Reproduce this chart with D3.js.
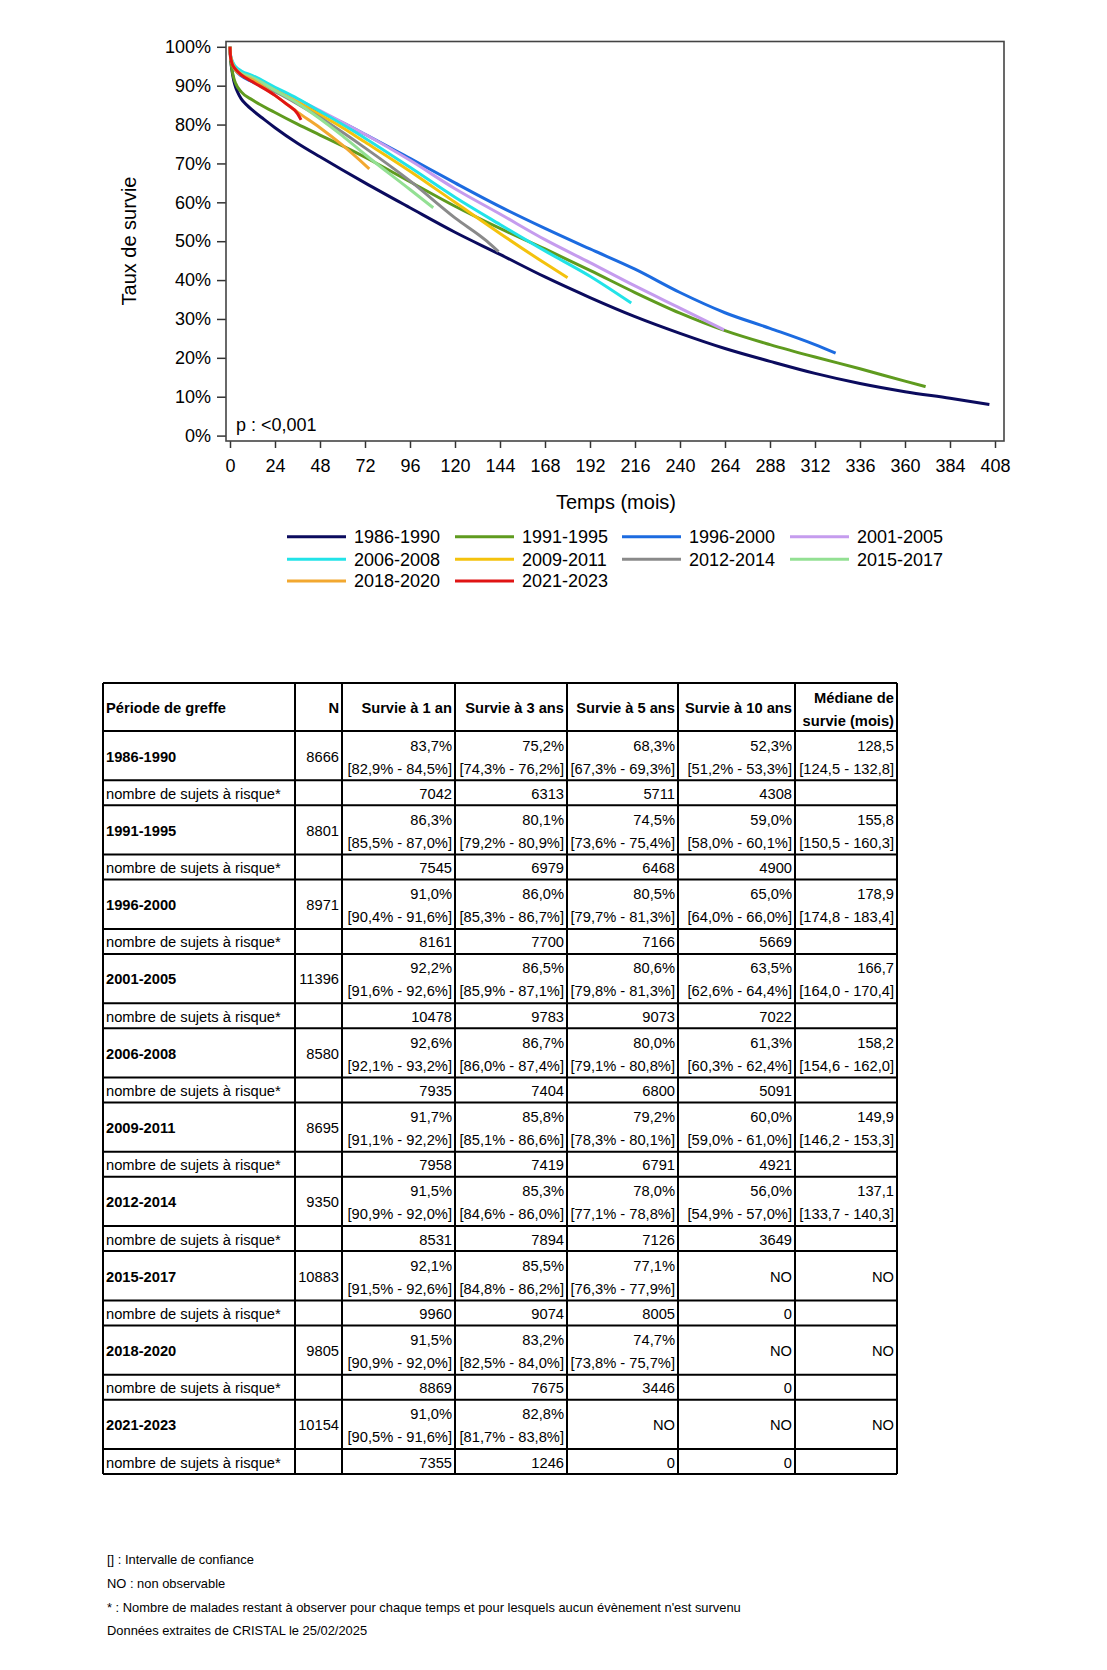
<!DOCTYPE html>
<html><head><meta charset="utf-8">
<script src="https://cdn.jsdelivr.net/npm/d3@7"></script>
<style>
body{margin:0;background:#fff}
svg{display:block}
text{font-family:"Liberation Sans",Arial,sans-serif;fill:#000}
</style>
</head><body>
<svg id="c" width="1107" height="1670"></svg>
<script>
// ---------------- DATA ----------------
const seriesNames = ["1986-1990","1991-1995","1996-2000","2001-2005","2006-2008","2009-2011","2012-2014","2015-2017","2018-2020","2021-2023"];
const seriesColors = ["#0b0b5e","#5f9b1f","#1c6be0","#c59cee","#22e3e8","#f4c20d","#8a8a8a","#93e093","#f2a830","#e01414"];

// [months, survival %]
const s1986 = [[0,100],[0.25,97.5],[0.5,96],[1,94],[2,91.3],[3,89.6],[4,88.4],[6,86.6],[9,85],[12,83.7],[18,81.4],[24,79.2],[36,75.2],[48,71.7],[60,68.3],[72,65.0],[96,58.6],[120,52.3],[144,46.6],[168,40.8],[192,35.5],[216,30.6],[240,26.3],[264,22.4],[288,19.1],[312,16.0],[336,13.4],[360,11.3],[384,9.6],[405,8.0]];
const s1991 = [[0,100],[0.25,97.5],[0.5,96],[1,94.3],[2,92],[3,90.6],[6,88.4],[12,86.3],[24,83.1],[36,80.1],[48,77.3],[60,74.5],[72,71.6],[96,65.3],[120,59],[144,53.3],[168,48],[192,42.5],[216,36.8],[240,31.5],[264,27],[288,23.4],[312,20.2],[336,17.2],[360,14],[371,12.6]];
const s1996 = [[0,100],[0.25,98],[0.5,97],[1,96],[2,94.7],[3,93.9],[6,92.5],[12,91],[24,88.5],[36,86],[48,83.3],[60,80.5],[72,77.5],[96,71.3],[120,65],[144,58.9],[168,53.3],[192,48],[216,42.8],[240,36.8],[264,31.6],[288,27.6],[312,23.4],[323,21.2]];
const s2001 = [[0,100],[0.25,98],[0.5,97.3],[1,96.5],[2,95.3],[3,94.6],[6,93.4],[12,92.2],[24,89.3],[36,86.5],[48,83.6],[60,80.6],[72,77.5],[96,70.8],[120,63.5],[144,57],[168,50.4],[192,44.5],[216,38.5],[240,32.8],[263.5,27.2]];
const s2006 = [[0,100],[0.25,98],[0.5,97.3],[1,96.6],[2,95.6],[3,94.9],[6,93.8],[12,92.6],[24,89.6],[36,86.7],[48,83.4],[60,80],[72,76.5],[96,69],[120,61.3],[144,54.3],[168,47.5],[192,41],[214,34.1]];
const s2009 = [[0,100],[0.25,97.8],[0.5,97],[1,96],[2,94.8],[3,94],[6,93],[12,91.7],[24,88.8],[36,85.8],[48,82.5],[60,79.2],[72,75.5],[96,68],[120,60],[144,52],[168,44.3],[180,40.6]];
const s2012 = [[0,100],[0.25,97.8],[0.5,97],[1,96],[2,94.8],[3,94],[6,92.8],[12,91.5],[24,88.5],[36,85.3],[48,81.8],[60,78],[72,74],[96,65.5],[120,56],[137,50],[143.2,47.3]];
const s2015 = [[0,100],[0.25,97.8],[0.5,97],[1,96.2],[2,95],[3,94.3],[6,93.2],[12,92.1],[24,88.8],[36,85.5],[48,81.5],[60,77.1],[72,72.3],[96,63.3],[108.4,58.6]];
const s2018 = [[0,100],[0.25,97.8],[0.5,97],[1,96],[2,94.8],[3,94],[6,92.8],[12,91.5],[24,87.5],[36,83.2],[48,79.2],[60,74.7],[74.3,68.6]];
const s2021 = [[0,100],[0.25,97.5],[0.5,96.8],[1,95.8],[2,94.8],[3,94.2],[6,92.8],[12,91],[24,87.5],[30,85.3],[36,82.8],[37.9,81.2]];
const seriesData = [s1986,s1991,s1996,s2001,s2006,s2009,s2012,s2015,s2018,s2021];

const xTickValues = [0,24,48,72,96,120,144,168,192,216,240,264,288,312,336,360,384,408];
const yTickValues = [0,10,20,30,40,50,60,70,80,90,100];

// Table data
const tableHeaders = ["Période de greffe","N","Survie à 1 an","Survie à 3 ans","Survie à 5 ans","Survie à 10 ans","Médiane de|survie (mois)"];
const nValues = [8666,8801,8971,11396,8580,8695,9350,10883,9805,10154];
const surv1 = [83.7,86.3,91.0,92.2,92.6,91.7,91.5,92.1,91.5,91.0];
const surv1Low = [82.9,85.5,90.4,91.6,92.1,91.1,90.9,91.5,90.9,90.5];
const surv1High = [84.5,87.0,91.6,92.6,93.2,92.2,92.0,92.6,92.0,91.6];
const risk1 = [7042,7545,8161,10478,7935,7958,8531,9960,8869,7355];
const surv3 = [75.2,80.1,86.0,86.5,86.7,85.8,85.3,85.5,83.2,82.8];
const surv3Low = [74.3,79.2,85.3,85.9,86.0,85.1,84.6,84.8,82.5,81.7];
const surv3High = [76.2,80.9,86.7,87.1,87.4,86.6,86.0,86.2,84.0,83.8];
const risk3 = [6313,6979,7700,9783,7404,7419,7894,9074,7675,1246];
const surv5 = [68.3,74.5,80.5,80.6,80.0,79.2,78.0,77.1,74.7,null];
const surv5Low = [67.3,73.6,79.7,79.8,79.1,78.3,77.1,76.3,73.8,null];
const surv5High = [69.3,75.4,81.3,81.3,80.8,80.1,78.8,77.9,75.7,null];
const risk5 = [5711,6468,7166,9073,6800,6791,7126,8005,3446,0];
const surv10 = [52.3,59.0,65.0,63.5,61.3,60.0,56.0,null,null,null];
const surv10Low = [51.2,58.0,64.0,62.6,60.3,59.0,54.9,null,null,null];
const surv10High = [53.3,60.1,66.0,64.4,62.4,61.0,57.0,null,null,null];
const risk10 = [4308,4900,5669,7022,5091,4921,3649,0,0,0];
const medianSurv = [128.5,155.8,178.9,166.7,158.2,149.9,137.1,null,null,null];
const medianLow = [124.5,150.5,174.8,164.0,154.6,146.2,133.7,null,null,null];
const medianHigh = [132.8,160.3,183.4,170.4,162.0,153.3,140.3,null,null,null];

const footnotes = ["[] : Intervalle de confiance","NO : non observable","* : Nombre de malades restant à observer pour chaque temps et pour lesquels aucun évènement n'est survenu","Données extraites de CRISTAL le 25/02/2025"];

// ---------------- CHART ----------------
const svg = d3.select("#c");
svg.append("rect").attr("width",1107).attr("height",1670).attr("fill","#fff");

const fr = d3.formatLocale({decimal:",",thousands:"",grouping:[3],currency:["",""]});
const f1 = fr.format(".1f");

const x = d3.scaleLinear().domain([0,408]).range([230,995]);
const y = d3.scaleLinear().domain([0,100]).range([435.6,46.8]);

const frame = {l:226,t:41.5,r:1004,b:441};

// axes
const yAxis = d3.axisLeft(y).tickValues(yTickValues).tickSize(9).tickPadding(6).tickFormat(d=>d+"%");
const gy = svg.append("g").attr("transform",`translate(${frame.l},0)`).call(yAxis);
gy.select(".domain").remove();
gy.selectAll("text").attr("font-size",18).attr("font-family","Liberation Sans, Arial, sans-serif").attr("fill","#000");
gy.selectAll("line").attr("stroke","#333").attr("stroke-width",1.5);

const xAxis = d3.axisBottom(x).tickValues(xTickValues).tickSize(7).tickPadding(11.5).tickFormat(d=>d);
const gx = svg.append("g").attr("transform",`translate(0,${frame.b})`).call(xAxis);
gx.select(".domain").remove();
gx.selectAll("text").attr("font-size",18).attr("font-family","Liberation Sans, Arial, sans-serif").attr("fill","#000");
gx.selectAll("line").attr("stroke","#333").attr("stroke-width",1.5);

// curves
const line = d3.line().x(d=>x(d[0])).y(d=>y(d[1])).curve(d3.curveMonotoneX);
svg.append("g").selectAll("path").data(seriesData).join("path")
  .attr("d",line).attr("fill","none")
  .attr("stroke",(d,i)=>seriesColors[i]).attr("stroke-width",3)
  .attr("stroke-linejoin","round");

// frame
svg.append("rect").attr("x",frame.l).attr("y",frame.t)
  .attr("width",frame.r-frame.l).attr("height",frame.b-frame.t)
  .attr("fill","none").attr("stroke","#444").attr("stroke-width",1.6);

svg.append("text").attr("x",236).attr("y",431).attr("font-size",18).text("p : <0,001");

svg.append("text").attr("transform","translate(135.5,241) rotate(-90)")
  .attr("text-anchor","middle").attr("font-size",20).text("Taux de survie");
svg.append("text").attr("x",616).attr("y",509).attr("text-anchor","middle")
  .attr("font-size",20).text("Temps (mois)");

// legend
const legCols = [287,455,622,790], legRows=[536.7,559.3,581];
const lg = svg.append("g").selectAll("g").data(seriesNames).join("g")
  .attr("transform",(d,i)=>`translate(${legCols[i%4]},${legRows[Math.floor(i/4)]})`);
lg.append("line").attr("x1",0).attr("x2",59).attr("stroke",(d,i)=>seriesColors[i]).attr("stroke-width",3);
lg.append("text").attr("x",67).attr("y",6.3).attr("font-size",18).text(d=>d);

// ---------------- TABLE ----------------
const colEdges = [103,295,342,455,567,678,795,897];
const tTop = 683, headH = 48, mainH = 49.3, subH = 25;
const tg = svg.append("g").attr("font-size",14.7);

// header text
tg.append("text").attr("x",colEdges[0]+3).attr("y",tTop+30).attr("font-weight","bold").text(tableHeaders[0]);
tableHeaders.slice(1).forEach((h,k)=>{
  const xr = colEdges[k+2]-3;
  const parts = h.split("|");
  if(parts.length===1){
    tg.append("text").attr("x",xr).attr("y",tTop+30).attr("text-anchor","end").attr("font-weight","bold").text(parts[0]);
  } else {
    tg.append("text").attr("x",xr).attr("y",tTop+19.5).attr("text-anchor","end").attr("font-weight","bold").text(parts[0]);
    tg.append("text").attr("x",xr).attr("y",tTop+42.5).attr("text-anchor","end").attr("font-weight","bold").text(parts[1]);
  }
});

const survCols = [
  [surv1,surv1Low,surv1High,risk1],
  [surv3,surv3Low,surv3High,risk3],
  [surv5,surv5Low,surv5High,risk5],
  [surv10,surv10Low,surv10High,risk10]
];
const hLines = [tTop, tTop+headH];
seriesNames.forEach((p,i)=>{
  const top = tTop+headH+i*(mainH+subH);
  const subTop = top+mainH;
  hLines.push(subTop, subTop+subH);
  tg.append("text").attr("x",colEdges[0]+3).attr("y",top+30.5).attr("font-weight","bold").text(p);
  tg.append("text").attr("x",colEdges[2]-3).attr("y",top+30.5).attr("text-anchor","end").text(nValues[i]);
  tg.append("text").attr("x",colEdges[0]+3).attr("y",subTop+18.5).text("nombre de sujets à risque*");
  survCols.forEach((c,k)=>{
    const xr = colEdges[k+3]-3;
    if(c[0][i]!==null){
      tg.append("text").attr("x",xr).attr("y",top+19.5).attr("text-anchor","end").text(f1(c[0][i])+"%");
      tg.append("text").attr("x",xr).attr("y",top+42.5).attr("text-anchor","end").text(`[${f1(c[1][i])}% - ${f1(c[2][i])}%]`);
    } else {
      tg.append("text").attr("x",xr).attr("y",top+30.5).attr("text-anchor","end").text("NO");
    }
    tg.append("text").attr("x",xr).attr("y",subTop+18.5).attr("text-anchor","end").text(c[3][i]);
  });
  const xm = colEdges[7]-3;
  if(medianSurv[i]!==null){
    tg.append("text").attr("x",xm).attr("y",top+19.5).attr("text-anchor","end").text(f1(medianSurv[i]));
    tg.append("text").attr("x",xm).attr("y",top+42.5).attr("text-anchor","end").text(`[${f1(medianLow[i])} - ${f1(medianHigh[i])}]`);
  } else {
    tg.append("text").attr("x",xm).attr("y",top+30.5).attr("text-anchor","end").text("NO");
  }
});
const tBottom = hLines[hLines.length-1];
tg.append("g").selectAll("line").data(hLines).join("line")
  .attr("x1",colEdges[0]).attr("x2",colEdges[7]).attr("y1",d=>d).attr("y2",d=>d)
  .attr("stroke","#000").attr("stroke-width",2);
tg.append("g").selectAll("line").data(colEdges).join("line")
  .attr("x1",d=>d).attr("x2",d=>d).attr("y1",tTop).attr("y2",tBottom)
  .attr("stroke","#000").attr("stroke-width",2);

// footnotes
const fnY = [1564,1588,1612,1635];
svg.append("g").selectAll("text").data(footnotes).join("text")
  .attr("x",107).attr("y",(d,i)=>fnY[i]).attr("font-size",12.9).text(d=>d);
</script>
</body></html>
